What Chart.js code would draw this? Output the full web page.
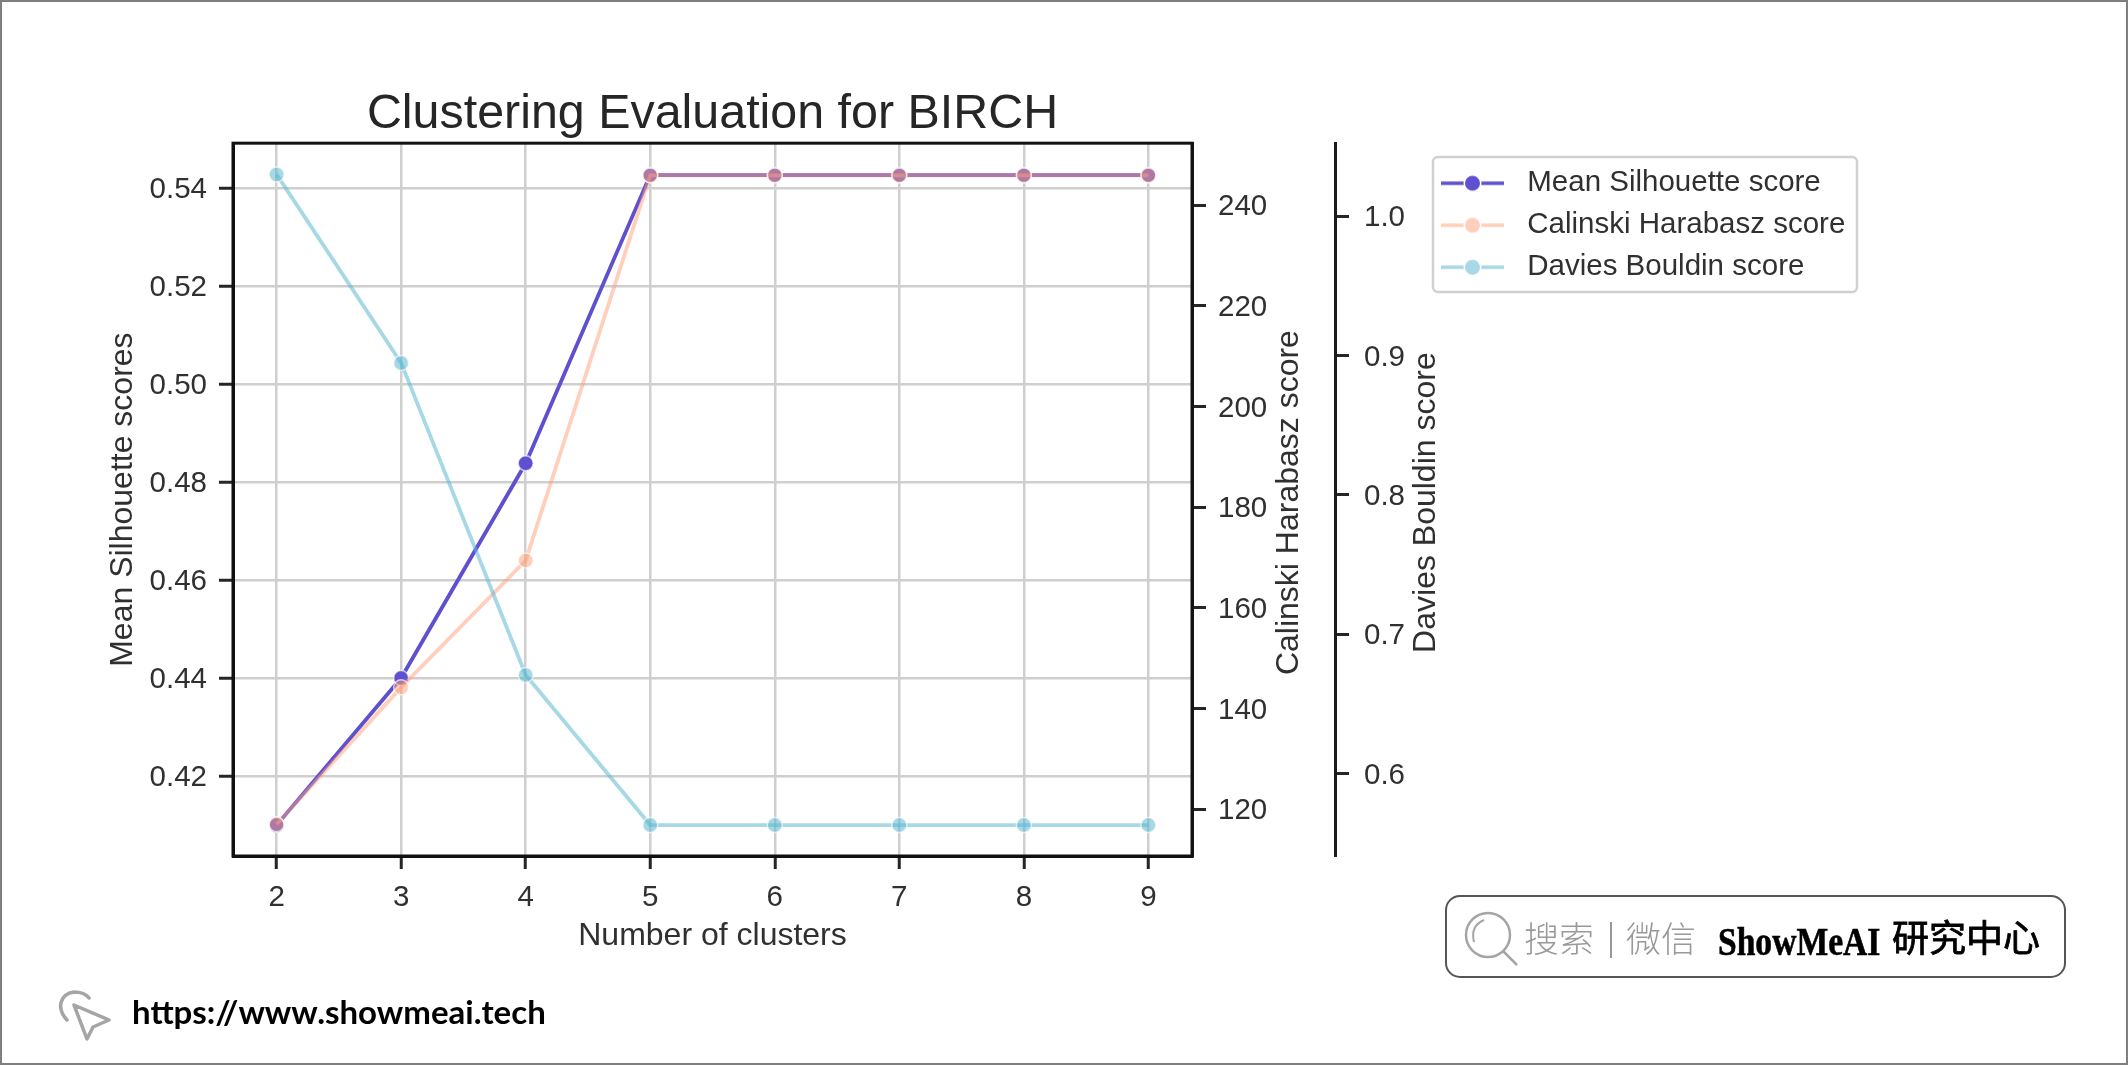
<!DOCTYPE html>
<html>
<head>
<meta charset="utf-8">
<title>Clustering Evaluation for BIRCH</title>
<script src="https://cdn.jsdelivr.net/npm/chart.js@4"></script>
<style>
    html, body { margin: 0; padding: 0; background: #fff; }
    #page { position: relative; width: 2128px; height: 1065px; overflow: hidden; }
    #frame { position: absolute; left: 0; top: 0; width: 2128px; height: 1065px; box-sizing: border-box; border: 2px solid #7f7f7f; pointer-events: none; }
    canvas { position: absolute; left: 0; top: 0; }
    #searchBox { position: absolute; left: 1445px; top: 895px; width: 621px; height: 83px; box-sizing: border-box; border: 2px solid #555; border-radius: 15px; }
    #searchBox span { position: absolute; white-space: nowrap; line-height: 1; }
    .gray { font: 300 35px "Noto Sans CJK SC"; color: #999; top: 22px; }
    .brand { font: 400 37px "Noto Sans CJK SC"; color: #000; top: 21px; -webkit-text-stroke: 0.8px #000; }
    #url { position: absolute; left: 132px; top: 991px; font: 700 33px Lato; color: #000; white-space: nowrap; }
    svg { position: absolute; left: 0; top: 0; pointer-events: none; }
</style>
</head>
<body>
<div id="page">
    <canvas id="birchChart" width="2128" height="1065"></canvas>
    <svg width="2128" height="1065" fill="none" stroke="#a5a5a5">
        <circle cx="1488" cy="935" r="22" stroke-width="2.5"/>
        <path d="M1503 951 L1517 965" stroke-width="2.5"/>
        <path d="M1474 942 Q1470 926 1484 920" stroke-width="2"/>
        <path d="M74 1005 L109 1020 L93 1027 L87 1039 Z" stroke-width="3.5" stroke-linejoin="round"/>
        <path d="M67 1020 C56 1008 60 994 74 992 C81 992 86 994 89 998" stroke-width="3.5" stroke-linecap="round"/>
    </svg>
    <div id="searchBox">
        <span class="gray" style="left:77px">搜索</span>
        <span style="left:163px;top:25px;width:2px;height:36px;background:#999"></span>
        <span class="gray" style="left:179px">微信</span>
        <span style="left:271px;top:21px;font:700 40px 'Liberation Serif';color:#000;-webkit-text-stroke:0.6px #000;transform:scaleX(0.84);transform-origin:left top">ShowMeAI</span>
        <span class="brand" style="left:445px">研究中心</span>
    </div>
    <div id="url">https://www.showmeai.tech</div>
    <div id="frame"></div>
</div>
<script>
// values
const clusters = [2, 3, 4, 5, 6, 7, 8, 9];
const silhouetteScores = [0.41, 0.44, 0.4838, 0.5426, 0.5426, 0.5426, 0.5426, 0.5426];
const calinskiScores = [117, 144.2, 169.4, 245.9, 245.9, 245.9, 245.9, 245.9];
const daviesScores = [1.03, 0.8947, 0.6707, 0.563, 0.563, 0.563, 0.563, 0.563];

const silhouetteTicks = [0.42, 0.44, 0.46, 0.48, 0.50, 0.52, 0.54];
const calinskiTicks = [120, 140, 160, 180, 200, 220, 240];
const daviesTicks = [0.6, 0.7, 0.8, 0.9, 1.0];

const silhouetteColor = 'rgb(95, 80, 208)';
const calinskiColor = 'rgba(255, 160, 122, 0.5)';
const daviesColor = 'rgba(92, 184, 210, 0.55)';
const textColor = '#303030';
const fontName = '"Liberation Sans", Arial, sans-serif';
const tickFontSize = 29.5;

const legendBox = { left: 1433, top: 157, right: 1857, bottom: 292 };

function toPoints(values) {
    return clusters.map((c, i) => ({ x: c, y: values[i] }));
}

function legendIcon(color) {
    const icon = document.createElement('canvas');
    icon.width = 63;
    icon.height = 20;
    const ctx = icon.getContext('2d');
    ctx.strokeStyle = color;
    ctx.lineWidth = 3.5;
    ctx.beginPath();
    ctx.moveTo(0, 10);
    ctx.lineTo(63, 10);
    ctx.stroke();
    ctx.fillStyle = '#fff';
    ctx.beginPath();
    ctx.arc(31.5, 10, 9, 0, Math.PI * 2);
    ctx.fill();
    ctx.fillStyle = color;
    ctx.beginPath();
    ctx.arc(31.5, 10, 7.5, 0, Math.PI * 2);
    ctx.fill();
    return icon;
}

function makeDataset(label, values, color, axisId, order) {
    return {
        label: label,
        data: toPoints(values),
        yAxisID: axisId,
        order: order,
        borderColor: color,
        backgroundColor: color,
        borderWidth: 3.8,
        pointRadius: 7.5,
        pointBorderColor: 'rgba(255, 255, 255, 0.65)',
        pointBorderWidth: 1.5,
        tension: 0
    };
}

function sideAxis(min, max, tickValues, digits, width, gap) {
    return {
        position: 'right',
        min: min,
        max: max,
        afterFit: scale => { scale.width = width; },
        afterBuildTicks: scale => { scale.ticks = tickValues.map(v => ({ value: v })); },
        border: { color: '#1a1a1a', width: 3 },
        grid: { drawOnChartArea: false, tickColor: '#262626', tickWidth: 3, tickLength: 14 },
        ticks: {
            color: textColor,
            padding: gap,
            labelOffset: 2,
            autoSkip: false,
            font: { family: fontName, size: tickFontSize },
            callback: v => v.toFixed(digits)
        }
    };
}

// right hand axis titles read bottom to top, and the box closes on all four sides
const chartFurniture = {
    id: 'chartFurniture',
    afterLayout(chart) {
        const legend = chart.legend;
        legend.left = legendBox.left - 13;
        legend.top = legendBox.top - 1;
        legend.right = legendBox.right;
        legend.bottom = legendBox.bottom + 20;
    },
    beforeDatasetsDraw(chart) {
        const ctx = chart.ctx;
        ctx.save();
        ctx.strokeStyle = '#d0d0d0';
        ctx.lineWidth = 2.5;
        ctx.beginPath();
        ctx.roundRect(legendBox.left, legendBox.top, legendBox.right - legendBox.left, legendBox.bottom - legendBox.top, 5);
        ctx.stroke();
        ctx.restore();
    },
    afterDraw(chart) {
        const ctx = chart.ctx;
        const area = chart.chartArea;
        ctx.save();
        ctx.strokeStyle = '#111';
        ctx.lineWidth = 3;
        ctx.strokeRect(area.left, area.top, area.right - area.left, area.bottom - area.top);
        ctx.fillStyle = textColor;
        ctx.font = '32px ' + fontName;
        ctx.textAlign = 'center';
        ctx.textBaseline = 'middle';
        [['Calinski Harabasz score', chart.scales.y1.left + 97.5], ['Davies Bouldin score', chart.scales.y2.left + 91]].forEach(t => {
            ctx.save();
            ctx.translate(t[1], (area.top + area.bottom) / 2 + 3);
            ctx.rotate(-Math.PI / 2);
            ctx.fillText(t[0], 0, 0);
            ctx.restore();
        });
        ctx.restore();
    }
};

new Chart(document.getElementById('birchChart'), {
    type: 'line',
    data: {
        datasets: [
            makeDataset('Mean Silhouette score', silhouetteScores, silhouetteColor, 'y', 2),
            makeDataset('Calinski Harabasz score', calinskiScores, calinskiColor, 'y1', 1),
            makeDataset('Davies Bouldin score', daviesScores, daviesColor, 'y2', 0)
        ]
    },
    plugins: [chartFurniture],
    options: {
        responsive: false,
        animation: false,
        events: [],
        scales: {
            x: {
                type: 'linear',
                min: 1.65,
                max: 9.35,
                afterFit: scale => { scale.height = 209; },
                afterBuildTicks: scale => { scale.ticks = clusters.map(v => ({ value: v })); },
                border: { color: '#111', width: 3 },
                grid: { color: '#cfcfcf', lineWidth: 2.5, tickColor: '#262626', tickWidth: 3, tickLength: 13 },
                ticks: { color: textColor, padding: 11, autoSkip: false, maxRotation: 0, font: { family: fontName, size: tickFontSize } },
                title: {
                    display: true,
                    text: 'Number of clusters',
                    color: textColor,
                    font: { family: fontName, size: 32 },
                    padding: { top: 0, bottom: 110 }
                }
            },
            y: {
                position: 'left',
                min: 0.4037,
                max: 0.5491,
                afterFit: scale => { scale.width = 233; },
                afterBuildTicks: scale => { scale.ticks = silhouetteTicks.map(v => ({ value: v })); },
                border: { color: '#111', width: 3 },
                grid: { color: '#cfcfcf', lineWidth: 2.5, tickColor: '#262626', tickWidth: 3, tickLength: 14 },
                ticks: {
                    color: textColor,
                    padding: 12,
                    labelOffset: 2,
                    autoSkip: false,
                    font: { family: fontName, size: tickFontSize },
                    callback: v => v.toFixed(2)
                },
                title: {
                    display: true,
                    text: 'Mean Silhouette scores',
                    color: textColor,
                    font: { family: fontName, size: 32 },
                    padding: { top: 103.5, bottom: 0 }
                }
            },
            y1: sideAxis(110.7, 252.3, calinskiTicks, 0, 143, 12),
            y2: sideAxis(0.5408, 1.0524, daviesTicks, 1, 793, 15)
        },
        plugins: {
            tooltip: { enabled: false },
            title: {
                display: true,
                fullSize: false,
                text: 'Clustering Evaluation for BIRCH',
                color: '#262626',
                font: { family: fontName, size: 48.4, weight: 'normal' },
                padding: { top: 86, bottom: -0.9 }
            },
            legend: {
                position: 'chartArea',
                align: 'start',
                labels: {
                    usePointStyle: true,
                    pointStyleWidth: 80,
                    padding: 12.5,
                    color: textColor,
                    font: { family: fontName, size: 29.5 },
                    generateLabels: chart => chart.data.datasets.map((ds, i) => ({
                        text: ds.label,
                        datasetIndex: i,
                        fontColor: textColor,
                        pointStyle: legendIcon(ds.borderColor),
                        lineWidth: 0
                    }))
                }
            }
        }
    }
});
</script>
</body>
</html>
